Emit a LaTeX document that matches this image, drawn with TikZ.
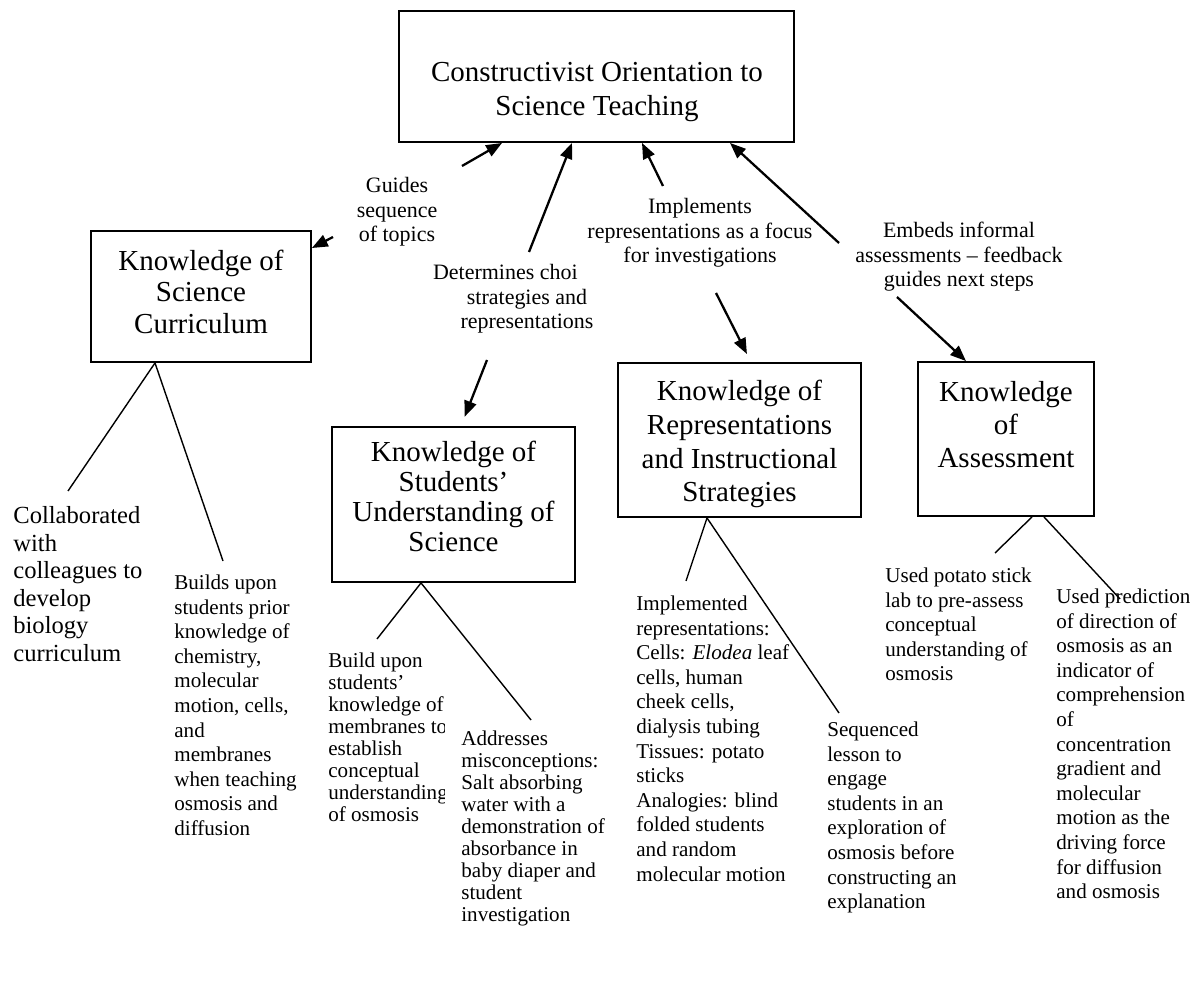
\documentclass[tikz,border=0pt]{standalone}
\usepackage{fontspec}
\setmainfont{Liberation Serif}
\usetikzlibrary{arrows.meta}
\tikzset{
  box/.style={draw=black, line width=1.1pt, inner sep=0pt},
  boxtext/.style={align=center, inner sep=0pt, font=\fontsize{16.5}{19}\selectfont},
  linklab/.style={align=center, inner sep=0pt, font=\fontsize{12.5}{14}\selectfont},
  note/.style={align=left, anchor=north west, inner sep=0pt, font=\fontsize{12}{14}\selectfont},
  link/.style={line width=1.3pt, -{Triangle[length=9pt,width=7pt]}},
  branch/.style={line width=0.8pt},
}

\begin{document}
\begin{tikzpicture}[x=0.02cm, y=-0.02cm]
\useasboundingbox (0,0) rectangle (1204,986);

% boxes
\node[box, minimum width=7.9cm, minimum height=2.62cm] (orient) at (596.5,76.5) {};
\node[boxtext] (orienttxt) at (597,92) {Constructivist Orientation to\\Science Teaching};

\node[box, minimum width=4.4cm, minimum height=2.62cm] (curric) at (201,296.5) {};
\node[boxtext, font=\fontsize{16.5}{17.9}\selectfont] (currictxt) at (201,291.5) {Knowledge of\\Science\\Curriculum};

\node[box, minimum width=4.86cm, minimum height=3.1cm] (stud) at (453.5,504.5) {};
\node[boxtext, font=\fontsize{16.5}{17.1}\selectfont] (studtxt) at (453.5,496) {Knowledge of\\Students'\\Understanding of\\Science};

\node[box, minimum width=4.86cm, minimum height=3.08cm] (repr) at (739.5,440) {};
\node[boxtext, font=\fontsize{16.5}{19.3}\selectfont] (reprtxt) at (739.5,444) {Knowledge of\\Representations\\and Instructional\\Strategies};

\node[box, minimum width=3.52cm, minimum height=3.08cm] (assess) at (1006,439) {};
\node[boxtext] (assesstxt) at (1006,424.5) {Knowledge\\of\\Assessment};

% link labels
\node[linklab] (guides) at (397,212) {Guides\\sequence\\of topics};
\node[linklab] (determ) at (527,299) {Determines choi\hphantom{ce of}\\strategies and\\representations};
\node[linklab] (implem) at (700,233) {Implements\\representations as a focus\\for investigations};
\node[linklab] (embeds) at (959,257) {Embeds informal\\assessments -- feedback\\guides next steps};

% links
\coordinate (g1) at (462,166);
\coordinate (g2) at (333,237);
\draw[link] (g1) -- (502,0 |- orient.south);
\draw[link] (g2) -- (curric.east |- 0,248);

\coordinate (d1) at (529,252);
\coordinate (d2) at (487,360);
\draw[link] (d1) -- (572,0 |- orient.south);
\draw[link, shorten >=2mm] (d2) -- (461,0 |- stud.north);

\coordinate (i1) at (663,186);
\coordinate (i2) at (716,293);
\draw[link] (i1) -- (642,0 |- orient.south);
\draw[link, shorten >=1.8mm] (i2) -- (751,0 |- repr.north);

\coordinate (e1) at (839,243);
\coordinate (e2) at (897,297);
\draw[link] (e1) -- (730,0 |- orient.south);
\draw[link] (e2) -- (966,0 |- assess.north);

% notes
\node[note, font=\fontsize{14}{15.7}\selectfont] (collab) at (13,506) {Collaborated\\with\\colleagues to\\develop\\biology\\curriculum};
\node[note] (builds) at (174,574.6) {Builds upon\\students prior\\knowledge of\\chemistry,\\molecular\\motion, cells,\\and\\membranes\\when teaching\\osmosis and\\diffusion};

\begin{scope}
\clip (0,0) rectangle (444.5,986);
\node[note, font=\fontsize{12}{12.5}\selectfont] (buildst) at (328,652.6) {Build upon\\students'\\knowledge of\\membranes to\\establish\\conceptual\\understanding\\of osmosis};
\end{scope}
\node[note, font=\fontsize{12}{12.5}\selectfont] (address) at (461,730.6) {Addresses\\misconceptions:\\Salt absorbing\\water with a\\demonstration of\\absorbance in\\baby diaper and\\student\\investigation};

\node[note] (implemented) at (636,595.6) {Implemented\\representations:\\Cells: \textit{Elodea} leaf\\cells, human\\cheek cells,\\dialysis tubing\\Tissues: potato\\sticks\\Analogies: blind\\folded students\\and random\\molecular motion};
\node[note] (sequenced) at (827,721.6) {Sequenced\\lesson to\\engage\\students in an\\exploration of\\osmosis before\\constructing an\\explanation};

\node[note] (potato) at (885,567.6) {Used potato stick\\lab to pre-assess\\conceptual\\understanding of\\osmosis};
\node[note] (predict) at (1056,588.6) {Used prediction\\of direction of\\osmosis as an\\indicator of\\comprehension\\of\\concentration\\gradient and\\molecular\\motion as the\\driving force\\for diffusion\\and osmosis};

% branches
\coordinate (c1) at (68,491);
\coordinate (c2) at (223,561);
\draw[branch] (155,0 |- curric.south) -- (c1);
\draw[branch] (155,0 |- curric.south) -- (c2);

\coordinate (s1) at (377,639);
\coordinate (s2) at (531,720);
\draw[branch] (421,0 |- stud.south) -- (s1);
\draw[branch] (421,0 |- stud.south) -- (s2);

\coordinate (r1) at (686,581);
\coordinate (r2) at (839,713);
\draw[branch] (707,0 |- repr.south) -- (r1);
\draw[branch] (707,0 |- repr.south) -- (r2);

\coordinate (a1) at (995,553);
\coordinate (a2) at (1120,599);
\draw[branch] (1032,0 |- assess.south) -- (a1);
\draw[branch] (1044,0 |- assess.south) -- (a2);
\end{tikzpicture}
\end{document}
